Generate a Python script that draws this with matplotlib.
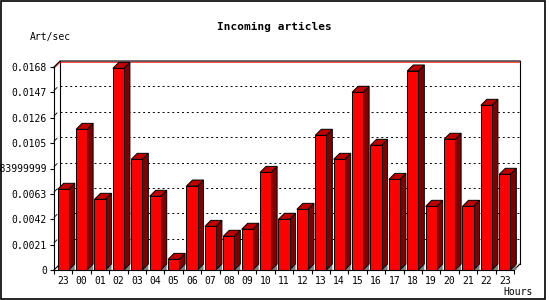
import matplotlib.pyplot as plt
from matplotlib.patches import Polygon, Rectangle

## data
hours = ['23', '00', '01', '02', '03', '04', '05', '06', '07', '08', '09', '10',
         '11', '12', '13', '14', '15', '16', '17', '18', '19', '20', '21', '22', '23']
rate = [0.00668, 0.01164, 0.00585, 0.01669, 0.00916, 0.00610, 0.00088, 0.00695,
        0.00361, 0.00279, 0.00337, 0.00808, 0.00420, 0.00502, 0.01115, 0.00916,
        0.01471, 0.01032, 0.00750, 0.01647, 0.00527, 0.01082, 0.00527, 0.01363,
        0.00792]

yticks = [0, 0.0021, 0.0042, 0.0063, 0.0084, 0.0105, 0.0126, 0.0147, 0.0168]
ytick_labels = ['0', '0.0021', '0.0042', '0.0063', '0.0083999999',
                '0.0105', '0.0126', '0.0147', '0.0168']

ymax = 0.0168

## figure
W, H = 550, 300
fig = plt.figure(figsize=(W / 100, H / 100), dpi=100)
fig.patch.set_facecolor('white')
ax = fig.add_axes([54 / W, 30 / H, 460 / W, 203 / H])
ax.set_xlim(-0.5, len(hours) - 0.5)
ax.set_ylim(0, ymax)
ax.patch.set_visible(False)

mono = 'DejaVu Sans Mono'
px_y = ymax / 203          # one pixel in y data units
px_x = 1 / 18.4            # one pixel in x data units
dx, dy = 6 * px_x, 6 * px_y
w = 0.6

# back wall + grid
for v in yticks[1:-1]:
    ax.plot([-0.5 + dx, len(hours) - 0.5 + dx], [v + dy, v + dy], color='black',
            lw=0.7, ls=(0, (2, 3)), zorder=1, clip_on=False)
    ax.plot([-0.5, -0.5 + dx * 0.5], [v + dy * 0.3, v + dy * 0.8], color='black',
            lw=0.6, zorder=1, clip_on=False)
xl, xr = -0.5, len(hours) - 0.5
ax.plot([xl + dx, xl + dx], [dy, ymax + dy], color='black', lw=0.8, zorder=1, clip_on=False)
ax.plot([xr + dx, xr + dx], [dy, ymax + dy], color='black', lw=0.8, zorder=1, clip_on=False)
ax.plot([xl, xl + dx], [0, dy], color='black', lw=0.8, zorder=1, clip_on=False)
ax.plot([xr, xr + dx], [0, dy], color='black', lw=0.8, zorder=1, clip_on=False)
ax.plot([xl, xl + dx, xr + dx], [ymax - 1.2 * px_y, ymax + dy - 1.2 * px_y, ymax + dy - 1.2 * px_y],
        color='red', lw=0.7, zorder=1, clip_on=False)
ax.plot([xl, xl + dx, xr + dx], [ymax, ymax + dy, ymax + dy],
        color='black', lw=0.8, zorder=1, clip_on=False)

# 3d bars
for i, v in enumerate(rate):
    l, r = i - w / 2, i + w / 2
    ax.add_patch(Polygon([(r, 0), (r + dx, dy), (r + dx, 0)], closed=True,
                         fc='#808080', ec='none', zorder=2, clip_on=False))
    ax.add_patch(Polygon([(r, 0), (r, v), (r + dx, v + dy), (r + dx, dy)], closed=True,
                         fc='#800000', ec='black', lw=0.7, zorder=3, clip_on=False))
    ax.add_patch(Polygon([(l, v), (l + dx, v + dy), (r + dx, v + dy), (r, v)], closed=True,
                         fc='#C00000', ec='black', lw=0.7, zorder=3, clip_on=False))
    ax.add_patch(Rectangle((l, 0), w, v, fc='#FF0000', ec='black', lw=0.7,
                           zorder=4, clip_on=False))

# axes
for s in ['top', 'right']:
    ax.spines[s].set_visible(False)
for s in ['left', 'bottom']:
    ax.spines[s].set_linewidth(0.8)
    ax.spines[s].set_zorder(5)
ax.set_yticks(yticks)
ax.set_yticklabels(ytick_labels, fontfamily=mono, fontsize=7)
ax.set_xticks([i - 0.5 for i in range(len(hours) + 1)])
ax.set_xticklabels([])
ax.set_xticks(range(len(hours)), minor=True)
ax.set_xticklabels(hours, minor=True, fontfamily=mono, fontsize=7)
ax.tick_params(axis='y', direction='out', length=3, width=0.8, pad=2)
ax.tick_params(axis='x', which='major', direction='out', length=3, width=0.8)
ax.tick_params(axis='x', which='minor', length=0, pad=4)

# text
fig.text(274 / W, 1 - 27 / H, 'Incoming articles', ha='center', va='center',
         fontfamily=mono, fontsize=8, fontweight='bold')
fig.text(30 / W, 1 - 37 / H, 'Art/sec', ha='left', va='center', fontfamily=mono, fontsize=7)
fig.text(533 / W, 1 - 292 / H, 'Hours', ha='right', va='center', fontfamily=mono, fontsize=7)

# outer frame
fig.add_artist(Rectangle((0.5 / W, 1 / H), 544 / W, 298.5 / H, transform=fig.transFigure,
                         fill=False, ec='black', lw=1.2))

fig.savefig('out.png', dpi=100)
